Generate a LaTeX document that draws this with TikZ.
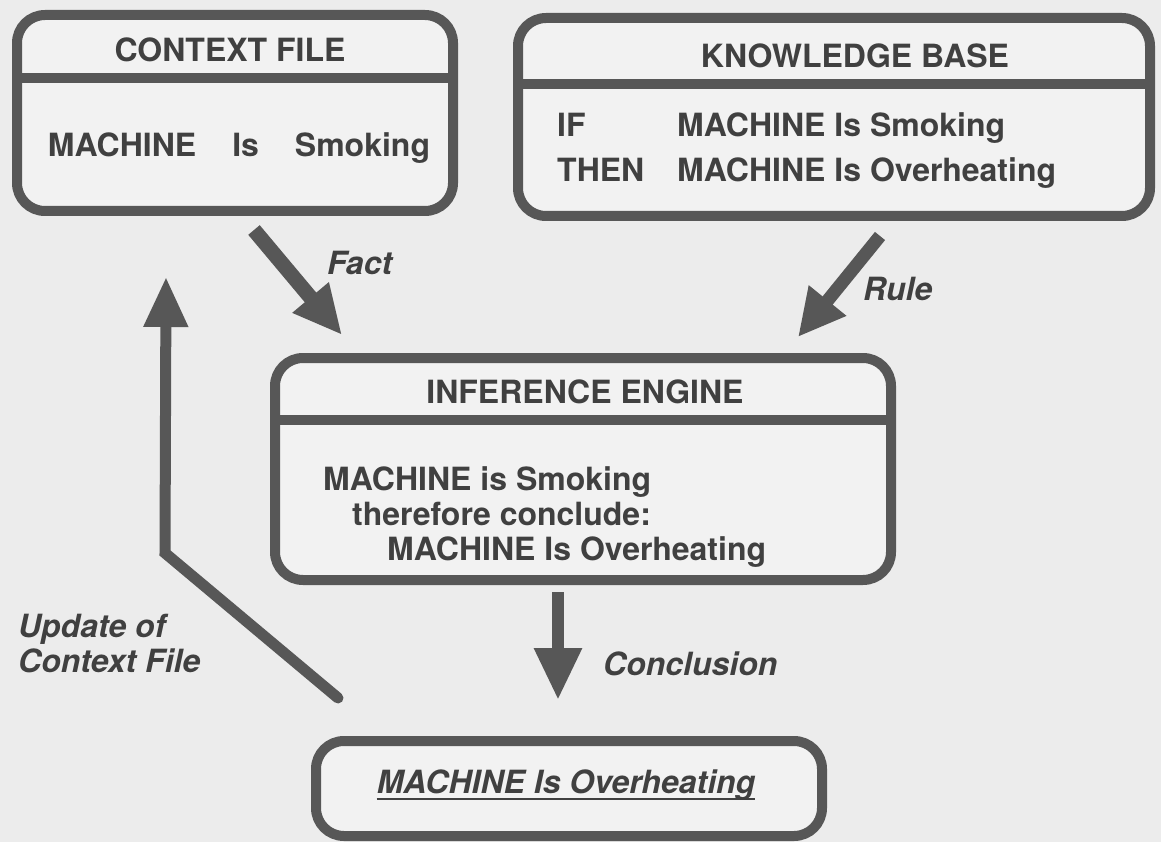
\documentclass[tikz,border=0pt]{standalone}
\usepackage{fontspec}
\setmainfont{TeX Gyre Heros}
\usetikzlibrary{arrows.meta}
\definecolor{paper}{HTML}{ECECEC}
\definecolor{boxfill}{HTML}{F2F2F2}
\definecolor{ink}{HTML}{575757}
\definecolor{txt}{HTML}{404040}
\begin{document}
\begin{tikzpicture}[x=1pt,y=-1pt,
  panel/.style={draw=ink, fill=boxfill, line width=10pt, rounded corners=28pt,
                inner sep=0pt, outer sep=0pt},
  divider/.style={draw=ink, line width=10pt},
  lbl/.style={text=txt, font=\fontsize{32}{36}\selectfont\bfseries, inner sep=0pt, anchor=base},
  lblw/.style={lbl, anchor=base west},
  tag/.style={text=txt, font=\fontsize{32}{36}\selectfont\bfseries\itshape, inner sep=0pt, anchor=base west},
  flow/.style={draw=ink, line width=15pt, -{Triangle[length=49pt,width=44pt]}},
]
% page and background
\useasboundingbox (0,0) rectangle (1161,842);
\fill[paper] (0,0) rectangle (1161,842);

% the four panels
\node[panel, minimum width=436pt, minimum height=196pt] (ctx) at (235,113) {};
\node[panel, minimum width=632pt, minimum height=198pt] (kb)  at (834,117) {};
\node[panel, minimum width=616pt, minimum height=222pt] (inf) at (583,469) {};
\node[panel, minimum width=506pt, minimum height=95pt]  (out) at (569,788.5) {};

% header separators
\draw[divider] (ctx.west |- 0,78)  -- (ctx.east |- 0,78);
\draw[divider] (kb.west  |- 0,84)  -- (kb.east  |- 0,84);
\draw[divider] (inf.west |- 0,420) -- (inf.east |- 0,420);

% panel texts
\node[lbl] (ctxT) at (230,62) {CONTEXT FILE};
\node[lbl] (ctxB) at (239,157) {MACHINE\hspace{36pt}Is\hspace{36pt}Smoking};

\node[lbl] (kbT) at (855,68) {KNOWLEDGE BASE};
\node[lblw] (kbIf)    at (557,137) {IF};
\node[lblw] (kbIfX)   at (677,137) {MACHINE Is Smoking};
\node[lblw] (kbThen)  at (557,182) {THEN};
\node[lblw] (kbThenX) at (677,182) {MACHINE Is Overheating};

\node[lbl] (infT) at (585,403) {INFERENCE ENGINE};
\node[lblw] (infA) at (323,490) {MACHINE is Smoking};
\node[lblw] (infB) at (352,525) {therefore conclude:};
\node[lblw] (infC) at (387,560) {MACHINE Is Overheating};

\node[tag, anchor=base] (outT) at (566,793) {MACHINE Is Overheating};
\draw[draw=txt, line width=2.5pt] ([yshift=-6pt]outT.base west) -- ([yshift=-6pt]outT.base east);

% arrow end points
\coordinate (factS) at (254,230);
\coordinate (factE) at (342,335);
\coordinate (ruleS) at (880,236);
\coordinate (ruleE) at (798,337);
\coordinate (conS)  at (558,592);
\coordinate (conE)  at (558,700);
\coordinate (updS)  at (338,698);
\coordinate (updB)  at (165,553);
\coordinate (updE)  at (166,277);

% arrows
\draw[flow] (factS) -- (factE);
\draw[flow, line width=13pt, -{Triangle[length=47pt,width=45pt]}] (ruleS) -- (ruleE);
\draw[flow, line width=12pt, -{Triangle[length=52pt,width=45pt]}] (conS) -- (conE);
\draw[flow, line width=11pt, line join=miter, line cap=round,
      -{Triangle[length=50pt,width=42pt]}] (updS) -- (updB) -- (updE);

% arrow labels
\node[tag] (factL) at (327,275) {Fact};
\node[tag] (ruleL) at (863,300) {Rule};
\node[tag] (conL)  at (603,675) {Conclusion};
\node[tag] (updL1) at (18,637) {Update of};
\node[tag] (updL2) at (18,672) {Context File};
\end{tikzpicture}
\end{document}
